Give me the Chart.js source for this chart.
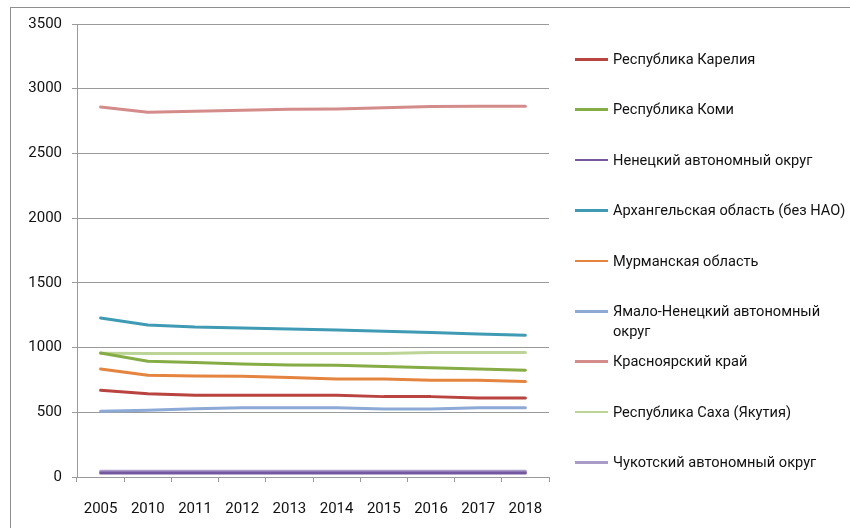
<!DOCTYPE html>
<html>
<head>
<meta charset="utf-8">
<script src="https://cdn.jsdelivr.net/npm/chart.js@4"></script>
<style>
  html, body { margin: 0; padding: 0; background: #fff; overflow: hidden; }
  #wrap { position: relative; width: 850px; height: 528px; overflow: hidden; }
  #frame { position: absolute; left: 10px; top: 7px; width: 900px; height: 600px; border: 1px solid #8f8f8f; box-sizing: border-box; }
  canvas { position: absolute; left: 0; top: 0; }
  #legend { position: absolute; left: 0; top: 0; font-family: Roboto, "Liberation Sans", sans-serif; font-size: 14.6px; color: #111; }
  .item { position: absolute; left: 575px; display: flex; align-items: flex-start; width: 276px; }
  .mark { width: 33px; height: 2.5px; margin-top: 9px; margin-right: 5px; flex: none; }
  .txt { line-height: 20px; width: 237px; }
</style>
</head>
<body>
<div id="wrap">
  <div id="frame"></div>
  <canvas id="c" width="850" height="528"></canvas>
  <div id="legend"></div>
</div>
<script>
const categories = ['2005','2010','2011','2012','2013','2014','2015','2016','2017','2018'];
const seriesNames = [
  'Республика Карелия',
  'Республика Коми',
  'Ненецкий автономный округ',
  'Архангельская область (без НАО)',
  'Мурманская область',
  'Ямало-Ненецкий автономный округ',
  'Красноярский край',
  'Республика Саха (Якутия)',
  'Чукотский автономный округ'
];
const karelia     = [670, 644, 631, 631, 631, 631, 621, 621, 611, 611];
const komi        = [958, 894, 884, 873, 866, 863, 853, 845, 835, 825];
const nenets      = [30, 30, 30, 30, 30, 30, 30, 30, 30, 30];
const arkhangelsk = [1229, 1175, 1159, 1152, 1144, 1136, 1126, 1116, 1105, 1095];
const murmansk    = [835, 786, 781, 778, 768, 757, 757, 747, 747, 737];
const yamal       = [508, 515, 528, 536, 536, 536, 526, 526, 536, 536];
const krasnoyarsk = [2859, 2818, 2826, 2834, 2842, 2844, 2852, 2862, 2865, 2865];
const yakutia     = [956, 955, 955, 955, 955, 955, 955, 962, 962, 962];
const chukotka    = [44, 44, 44, 44, 44, 44, 44, 44, 44, 44];
const yTicks = [0, 500, 1000, 1500, 2000, 2500, 3000, 3500];

const seriesValues = [karelia, komi, nenets, arkhangelsk, murmansk, yamal, krasnoyarsk, yakutia, chukotka];
const colors = ['#B8433F', '#86AC45', '#7358A0', '#3E9BB3', '#E4843F', '#8DA9D6', '#D48C8A', '#BCD597', '#AB9BC9'];

const datasets = seriesNames.map((name, i) => ({
  label: name,
  data: seriesValues[i],
  borderColor: colors[i],
  backgroundColor: colors[i],
  borderWidth: 3,
  pointRadius: 0,
  tension: 0,
  fill: false,
  borderCapStyle: 'round',
  borderJoinStyle: 'round'
}));

const FONT = { family: 'Roboto, "Liberation Sans", sans-serif', size: 15 };

new Chart(document.getElementById('c'), {
  type: 'line',
  data: { labels: categories, datasets },
  options: {
    responsive: false,
    animation: false,
    devicePixelRatio: 1,
    layout: { padding: { left: 0, top: 24, right: 301, bottom: 0 } },
    plugins: { legend: { display: false }, tooltip: { enabled: false } },
    scales: {
      x: {
        type: 'category',
        offset: true,
        grid: { display: true, offset: true, drawOnChartArea: false, drawTicks: true, tickLength: 5, color: '#9a9a9a', lineWidth: 1 },
        border: { display: true, color: '#9a9a9a', width: 1 },
        ticks: { color: '#111', font: FONT, padding: 18, maxRotation: 0, autoSkip: false },
        afterFit: s => { s.height = 51; }
      },
      y: {
        min: 0, max: 3500,
        afterBuildTicks: s => { s.ticks = yTicks.map(v => ({ value: v })); },
        grid: { display: true, drawOnChartArea: true, drawTicks: true, tickLength: 5, color: '#9a9a9a', lineWidth: 1 },
        border: { display: true, color: '#9a9a9a', width: 1 },
        ticks: { color: '#111', font: FONT, padding: 10, callback: v => String(v) },
        afterFit: s => { s.width = 77; }
      }
    }
  }
});

const legend = document.getElementById('legend');
seriesNames.forEach((name, i) => {
  const item = document.createElement('div');
  item.className = 'item';
  item.style.top = (49 + i * 50.4) + 'px';
  const mark = document.createElement('div');
  mark.className = 'mark';
  mark.style.background = colors[i];
  const txt = document.createElement('div');
  txt.className = 'txt';
  txt.textContent = name;
  item.appendChild(mark);
  item.appendChild(txt);
  legend.appendChild(item);
});
</script>
</body>
</html>
